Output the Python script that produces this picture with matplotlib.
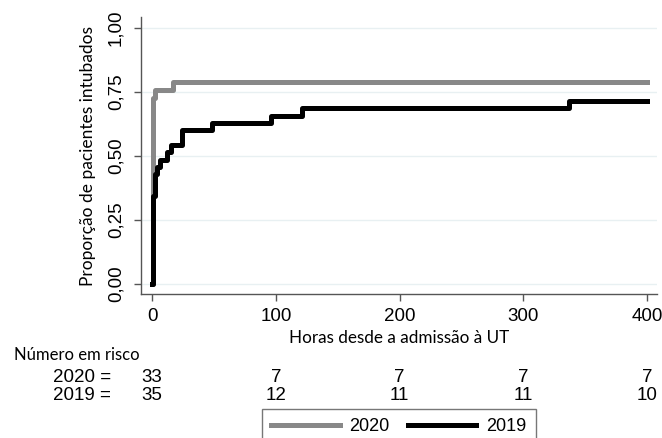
import matplotlib
matplotlib.use("Agg")
import matplotlib.pyplot as plt
import matplotlib.transforms as mtransforms
from matplotlib.ticker import FuncFormatter

# Kaplan-Meier style cumulative proportion intubated (step functions)
hours_2020 = [0, 0.5, 2.5, 17, 400]
prop_2020 = [0.0, 0.727, 0.758, 0.788, 0.788]

hours_2019 = [0, 0.5, 2.5, 4, 6, 12, 15, 24, 48, 96, 121, 337, 400]
prop_2019 = [0.0, 0.343, 0.429, 0.457, 0.486, 0.514, 0.543, 0.600, 0.629,
             0.657, 0.686, 0.714, 0.714]

risk_times = [0, 100, 200, 300, 400]
risk_2020 = [33, 7, 7, 7, 7]
risk_2019 = [35, 12, 11, 11, 10]

x_ticks = [0, 100, 200, 300, 400]
y_ticks = [0.0, 0.25, 0.50, 0.75, 1.00]

W, H = 662, 438
fig = plt.figure(figsize=(W / 100, H / 100), dpi=100)
ax = fig.add_axes([141 / W, 1 - 294 / H, (657 - 141) / W, (294 - 17) / H])

num_font = "Liberation Sans"
lab_font = "Lato"

for y in y_ticks:
    ax.axhline(y, color="#e8f0f2", linewidth=1.0, zorder=0)

ax.step(hours_2020, prop_2020, where="post", color="#888888", linewidth=3.6,
        label="2020", zorder=2)
ax.step(hours_2019, prop_2019, where="post", color="black", linewidth=3.6,
        label="2019", zorder=3)

ax.set_xlim(-9, 408)
ax.set_ylim(-0.039, 1.043)
ax.set_xticks(x_ticks)
ax.set_yticks(y_ticks)
ax.yaxis.set_major_formatter(FuncFormatter(lambda v, p: f"{v:.2f}".replace(".", ",")))

for side in ["top", "right"]:
    ax.spines[side].set_visible(False)
for side in ["left", "bottom"]:
    ax.spines[side].set_color("#555555")
    ax.spines[side].set_linewidth(1.0)

ax.tick_params(axis="both", direction="out", length=5, width=1, color="#555555",
               labelsize=13.5)
ax.tick_params(axis="x", pad=5)
ax.tick_params(axis="y", pad=7)
for lbl in ax.get_xticklabels() + ax.get_yticklabels():
    lbl.set_fontfamily(num_font)
for lbl in ax.get_yticklabels():
    lbl.set_rotation(90)
    lbl.set_va("center")

ax.set_xlabel("Horas desde a admissão à UT", fontsize=12.3, family=lab_font,
              labelpad=4)
ax.set_ylabel("Proporção de pacientes intubados", fontsize=12.5, family=lab_font,
              labelpad=8)

# number at risk table
trans = mtransforms.blended_transform_factory(ax.transData, fig.transFigure)
fig.text(14 / W, 1 - 355 / H, "Número em risco", fontsize=12, family=lab_font,
         ha="left", va="center")
fig.text(111 / W, 1 - 378 / H, "2020 =", fontsize=13.5, family=num_font,
         ha="right", va="center")
fig.text(111 / W, 1 - 395 / H, "2019 =", fontsize=13.5, family=num_font,
         ha="right", va="center")
for t, a, b in zip(risk_times, risk_2020, risk_2019):
    ax.text(t, 1 - 378 / H, str(a), transform=trans, fontsize=13.5, family=num_font,
            ha="center", va="center", clip_on=False)
    ax.text(t, 1 - 395 / H, str(b), transform=trans, fontsize=13.5, family=num_font,
            ha="center", va="center", clip_on=False)

leg = fig.legend(loc="upper left", bbox_to_anchor=(262 / W, 1 - 409 / H),
                 ncol=2, frameon=True, fancybox=False, borderaxespad=0,
                 handlelength=3.8, handletextpad=0.55, columnspacing=1.0,
                 borderpad=0.5, prop={"family": num_font, "size": 13})
leg.get_frame().set_edgecolor("#555555")
leg.get_frame().set_linewidth(1.0)

fig.savefig("out.png", dpi=100)
